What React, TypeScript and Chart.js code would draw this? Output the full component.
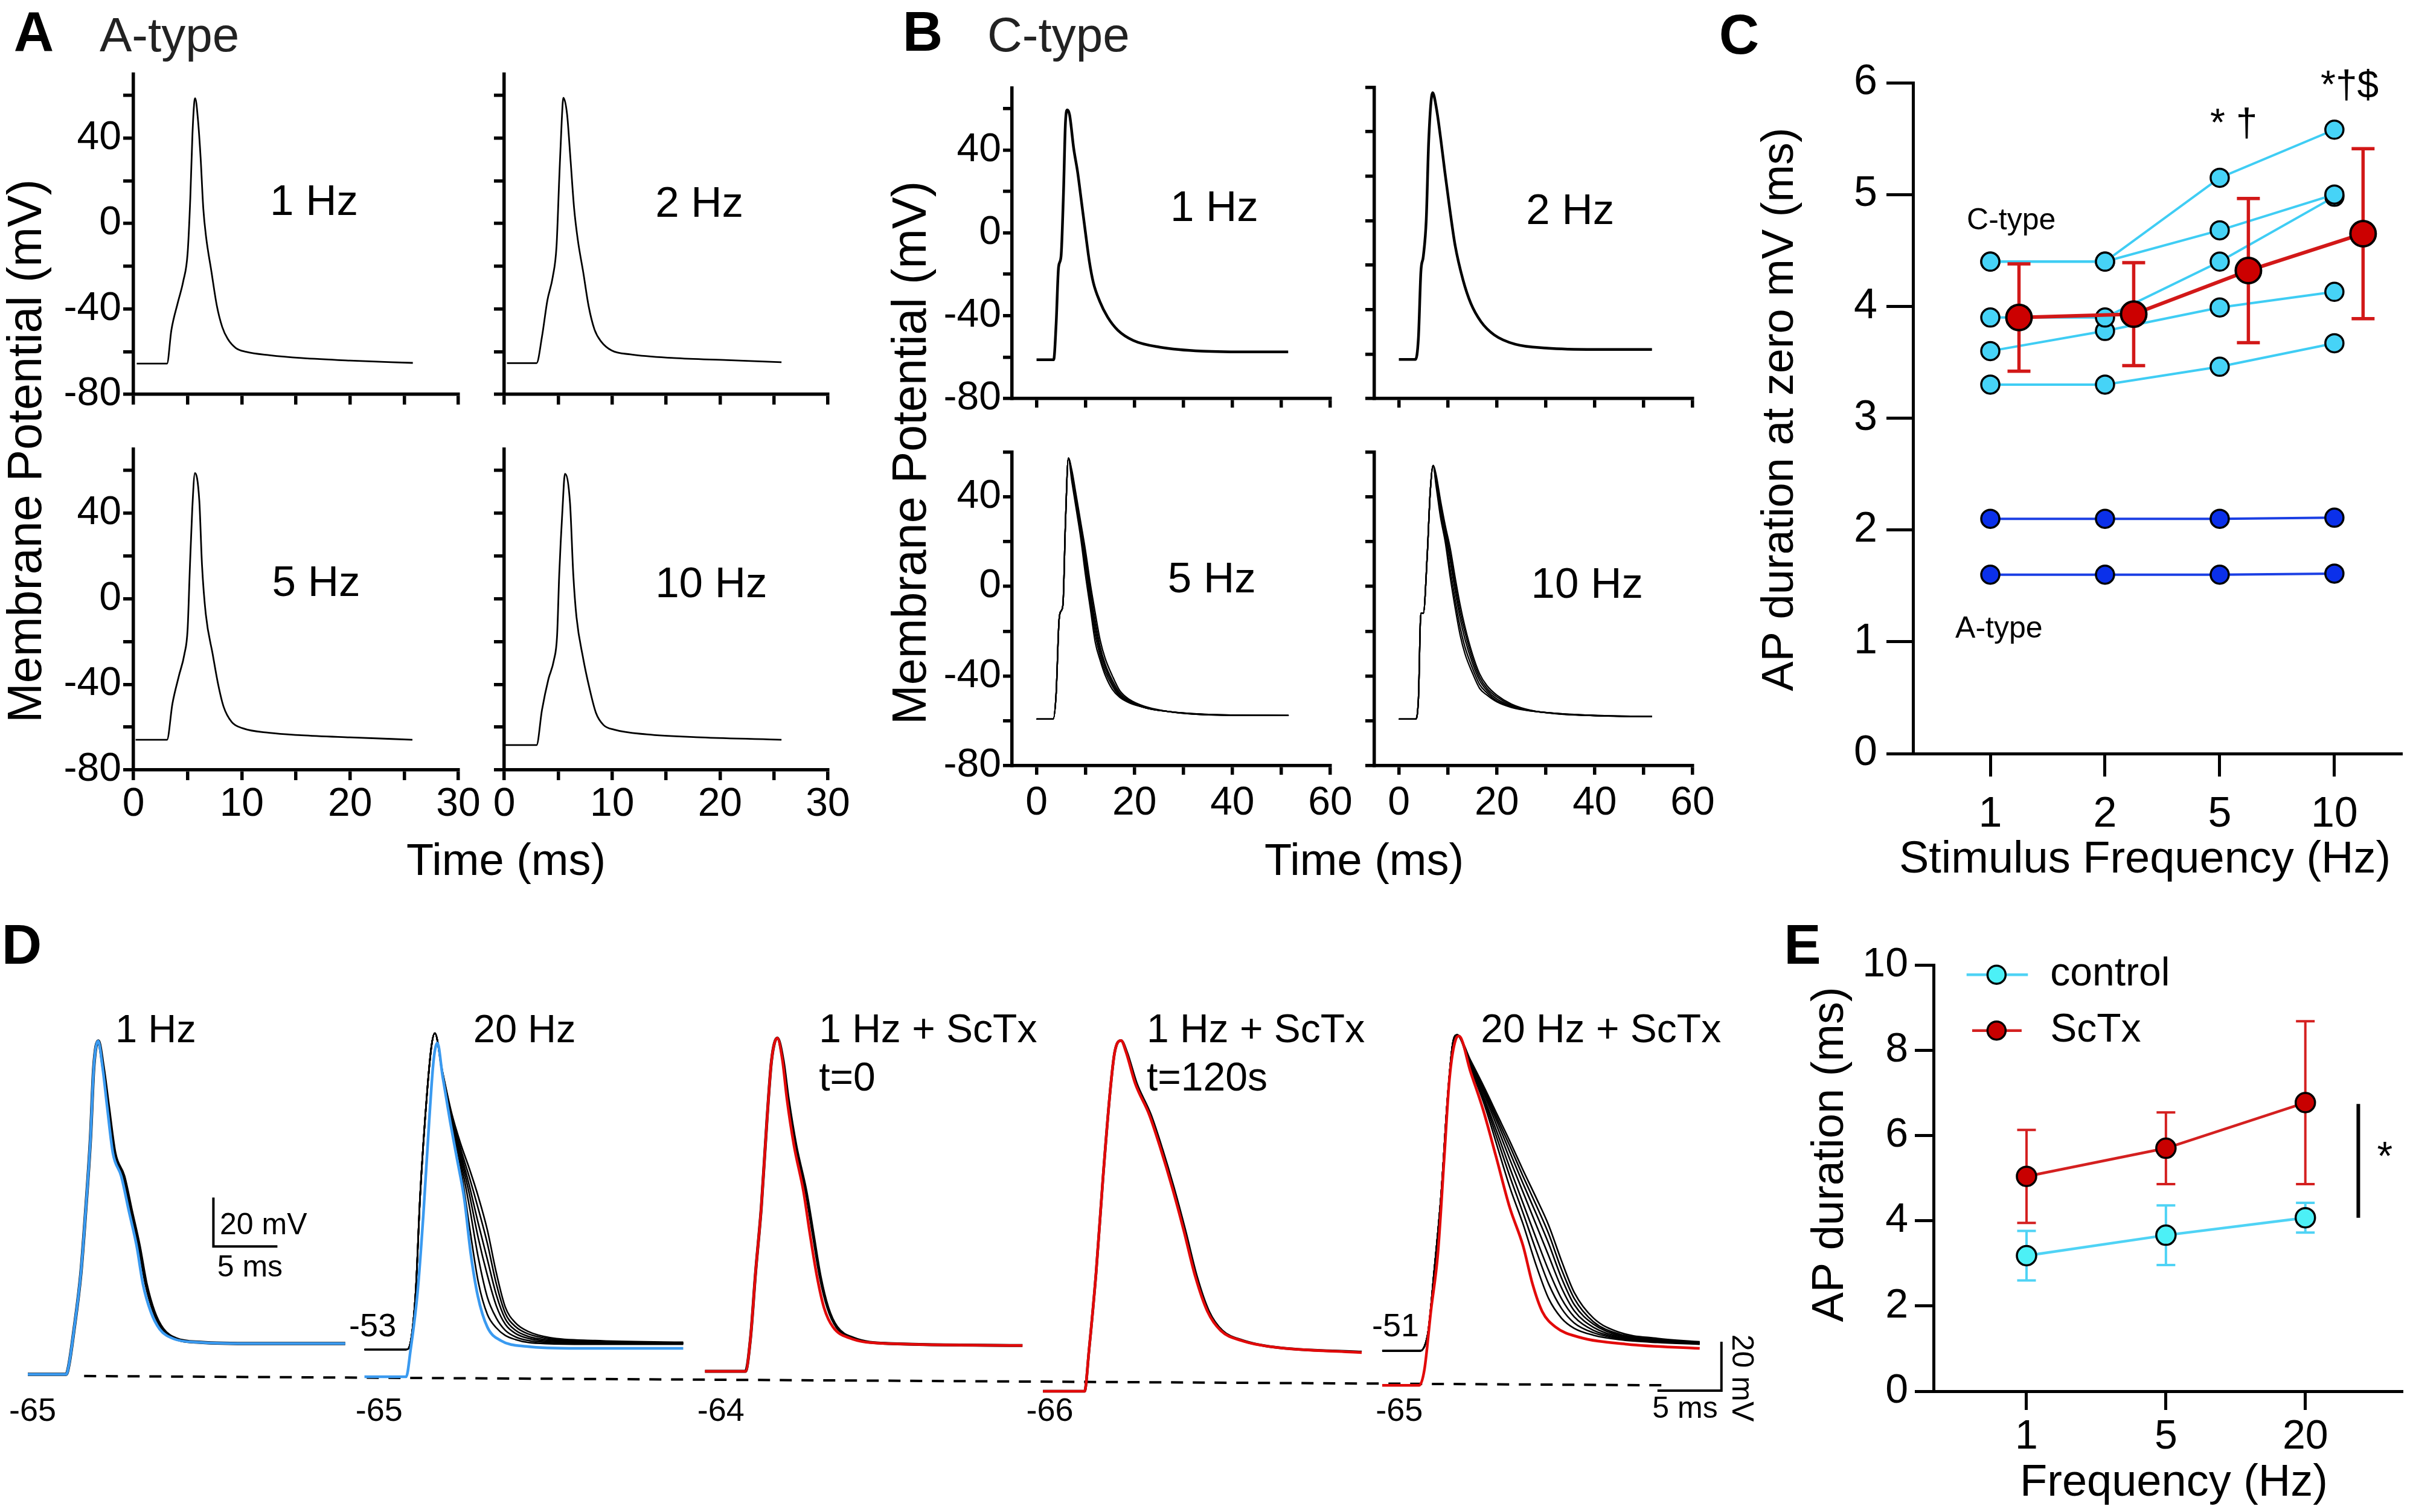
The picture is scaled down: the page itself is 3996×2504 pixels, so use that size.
import React, { useEffect, useRef } from 'react';
import { Chart, registerables } from 'chart.js';

Chart.register(...registerables);

const FONT = "'Liberation Sans', Arial, Helvetica, sans-serif";
type P = [number, number];

/* ================= DATA ================= */

/* ---- Panel A: A-type APs (time ms, membrane potential mV) ---- */
const aTrace1Hz: P[] = [[0.3,-65.6],[3.1,-65.6],[3.5,-50],[4.1,-37],[4.6,-27],[5.0,-14],[5.25,12],[5.45,42],[5.62,57],[5.7,58.7],[5.95,49],[6.2,31],[6.45,7],[6.7,-6],[7.2,-22.5],[7.7,-38.5],[8.2,-48.5],[8.7,-54],[9.45,-58.3],[10.4,-60.1],[12.6,-61.7],[15.5,-63],[20,-64.2],[25.8,-65.3]];
const aTrace2Hz: P[] = [[0.25,-65.4],[3.0,-65.4],[3.5,-53],[4.0,-36],[4.5,-25],[4.85,-10.5],[5.1,21],[5.33,48],[5.48,58.9],[5.83,51],[6.13,31],[6.48,7],[6.83,-8],[7.32,-22.7],[7.82,-38.6],[8.37,-49.7],[8.97,-55.2],[9.97,-59.5],[11.7,-61.3],[15.7,-63],[20.7,-64],[25.7,-65]];
const aTrace5Hz: P[] = [[0.2,-65.9],[3.1,-65.9],[3.6,-49],[4.2,-36],[4.7,-26],[5.0,-14.4],[5.2,13],[5.43,41.8],[5.68,58.8],[6.08,46],[6.33,15.8],[6.68,-7.2],[7.32,-26],[7.82,-40],[8.32,-50.4],[9.07,-57.6],[10.06,-60.5],[12.56,-62.7],[15.5,-63.8],[20,-64.8],[25.76,-65.9]];
const aTrace10Hz: P[] = [[0,-68.4],[3.0,-68.4],[3.5,-52],[4.1,-37.5],[4.6,-28.8],[4.9,-17.3],[5.1,11.5],[5.4,41.8],[5.63,58.4],[6.1,44.7],[6.4,11.5],[6.7,-8.6],[7.3,-27.4],[7.9,-41.8],[8.5,-53.3],[9.2,-59],[10.2,-61.2],[13.2,-63.4],[18.2,-64.8],[25.7,-65.9]];
const aTimeTicks = [0, 5, 10, 15, 20, 25, 30];
const aTimeLabels = [0, 10, 20, 30];
const mvTicks = [-80, -60, -40, -20, 0, 20, 40, 60];
const mvLabels = [-80, -40, 0, 40];

/* ---- Panel B: C-type APs ---- */
const bTrace1Hz: P[] = [[0,-61.3],[3.5,-61.3],[4.0,-44],[4.5,-16.5],[5.0,-11.5],[5.5,19],[5.9,53],[6.3,59.4],[6.75,57],[7.6,40.6],[8.4,29.2],[9.1,16.5],[10.0,0],[10.8,-14],[11.6,-24],[12.9,-33],[14.5,-40.6],[16.6,-47],[19.8,-52],[25.2,-55.2],[33.8,-57.1],[44.5,-57.5],[51.4,-57.5]];
const bTrace2Hz: P[] = [[0,-62.4],[3.4,-62.4],[4.0,-52.6],[4.5,-23],[5.0,-16],[5.6,0.6],[6.1,36],[6.9,57.6],[7.7,50.2],[8.6,36],[9.4,21.9],[10.4,5.3],[11.5,-11.2],[13.1,-26.6],[14.7,-37.2],[16.8,-45.5],[19.5,-51.4],[23.8,-55.6],[30.2,-57.3],[39.9,-57.9],[51.7,-57.9]];
const b5HzRise: P[] = [[0,-59.2],[3.4,-59.2],[4.0,-48],[4.6,-15],[5.0,-11],[5.4,-8],[5.9,28],[6.5,57.3]];
const b5HzDecayTimes = [7.2, 8, 9, 10, 11, 12, 13, 14, 15.5, 17, 19, 22, 26, 32, 40, 51.5];
const b5HzDecays = [
  [52, 42, 29, 16, 1, -12, -24, -32, -40, -46.5, -50.5, -53.5, -55.5, -57, -57.5, -57.6],
  [51, 40.5, 27, 13, -2, -15.5, -27, -34.5, -42, -47.5, -51, -54, -55.6, -57, -57.5, -57.6],
  [50, 39, 25.5, 11, -4.5, -18.5, -29, -36, -43.3, -48.3, -51.4, -54, -55.6, -56.9, -57.5, -57.6],
  [49, 38, 24, 8.5, -7, -21.5, -31, -37.8, -44.5, -49, -51.7, -54, -55.6, -56.8, -57.4, -57.6],
  [47, 36, 22, 5, -10, -25, -33, -39.5, -46, -49.5, -52, -54, -55.6, -56.8, -57.4, -57.6],
];
const b10HzRise: P[] = [[0,-59.2],[3.4,-59.2],[4.0,-50],[4.5,-12],[5.0,-12],[5.8,14],[6.4,41.8],[7.0,54]];
const b10HzDecayTimes = [7.6, 8.5, 9.5, 10.5, 11.5, 12.5, 13.5, 15, 16.5, 18, 20, 23, 27, 33, 42, 51.7];
const b10HzDecays = [
  [50, 38.5, 27, 17, 4, -8, -18, -30, -39, -44.3, -48.5, -52.5, -55.3, -57, -57.8, -58.1],
  [49, 37, 25.5, 14, 1, -11, -20.5, -32, -40.5, -45.5, -49.3, -53, -55.4, -56.9, -57.8, -58.1],
  [48, 35.5, 24, 11.5, -2, -14, -23.5, -34, -42, -46.5, -50.2, -53.4, -55.5, -56.9, -57.8, -58.1],
  [46.5, 33, 21.5, 7.5, -6, -18, -27, -36.3, -43.8, -47.5, -51, -53.7, -55.6, -56.8, -57.7, -58.1],
  [45, 31, 19.5, 4, -9.5, -21.5, -30, -38.5, -45.5, -48.5, -51.5, -54, -55.6, -56.8, -57.7, -58.1],
];
const bTimeTicks = [0, 10, 20, 30, 40, 50, 60];
const bTimeLabels = [0, 20, 40, 60];

/* ---- Panel C: AP duration at zero mV vs stimulus frequency ---- */
const cFreqLabels = ['1', '2', '5', '10'];
const cTypeCells = [
  [4.4, 4.4, 5.15, 5.58],
  [4.4, 4.4, 4.68, 5.0],
  [3.9, 3.9, 4.4, 4.98],
  [3.6, 3.78, 3.99, 4.13],
  [3.3, 3.3, 3.46, 3.67],
];
const aTypeCells = [
  [2.1, 2.1, 2.1, 2.11],
  [1.6, 1.6, 1.6, 1.61],
];
const cTypeMean = [3.9, 3.93, 4.32, 4.65];
const cTypeSd = [0.48, 0.46, 0.645, 0.76];
const cDurTicks = [0, 1, 2, 3, 4, 5, 6];

/* ---- Panel D: example traces (local time ms, mV) ---- */
const d1HzBlue: P[] = [[0,-64.5],[3.0,-64.5],[3.2,-61],[3.6,-46.7],[4.15,-23],[4.5,0.7],[4.9,32.3],[5.15,60.7],[5.5,71.8],[5.85,60.7],[6.2,44.9],[6.65,25.9],[7.3,16.5],[7.9,2.2],[8.5,-11.9],[9.0,-27.7],[9.6,-38.8],[10.3,-46],[11.4,-50],[13.35,-51.4],[17.7,-51.9],[24.8,-51.9]];
const d1HzBlack: P[] = [[0,-64.5],[3.0,-64.5],[3.2,-61],[3.6,-46.7],[4.15,-23],[4.5,0.7],[4.9,32.3],[5.15,60.7],[5.5,71.8],[5.9,60.7],[6.3,44.9],[6.8,25.9],[7.5,16.5],[8.1,2.2],[8.7,-11.9],[9.25,-27.7],[9.85,-38.8],[10.55,-46],[11.6,-50],[13.5,-51.4],[17.7,-51.9],[24.8,-51.9]];
const d20HzBlue: P[] = [[0,-65.5],[3.26,-65.5],[3.6,-54.6],[4.15,-30.9],[4.6,0.7],[5.05,38.7],[5.4,63.9],[5.7,71],[6.1,57.5],[6.7,38.7],[7.2,24.4],[7.8,7.1],[8.3,-15.1],[8.85,-32.4],[9.6,-45.2],[10.65,-50.7],[12.65,-53.1],[16.6,-53.9],[24.9,-53.9]];
const d20HzBlackRise: P[] = [[0,-54.4],[3.26,-54.4],[3.6,-51.4],[4.0,-30.9],[4.35,8.6],[4.9,51.3],[5.25,70.3],[5.5,75]];
const d20HzDecayTimes = [6.1, 6.8, 7.5, 8.2, 8.9, 9.6, 10.3, 11.0, 11.8, 12.8, 14.5, 18, 24.9];
const d20HzDecays = [
  [59.2, 42.5, 30, 19.5, 8, -5.5, -23, -37, -43.5, -47, -49.5, -50.7, -51.4],
  [59, 41.5, 28, 16, 3, -11, -27.5, -39.5, -45, -48, -50, -51, -51.6],
  [58.7, 40.8, 26.5, 12.5, -3, -17.5, -32, -41.8, -46.5, -49, -50.5, -51.2, -51.7],
  [58.3, 40, 25, 9, -9, -24, -36.5, -44, -47.8, -49.8, -51, -51.5, -51.8],
  [58, 39, 23, 4, -17, -33, -41.5, -46.5, -49.2, -50.7, -51.5, -51.9, -52],
  [57.5, 38, 20.5, -4, -27, -40, -45.5, -48.6, -50.3, -51.5, -52, -52.2, -52.2],
];
const dScTx0Red: P[] = [[0,-63.3],[3.16,-63.3],[3.55,-50],[3.95,-23],[4.4,3.9],[4.85,40.2],[5.2,63.9],[5.65,73],[6.05,63.9],[6.4,48.1],[6.95,29.1],[7.7,10.1],[8.2,-7.2],[8.75,-24.5],[9.3,-37.3],[10.0,-45.2],[11.3,-49.7],[14.15,-51.9],[24.8,-52.7]];
const dScTx0Black: P[] = [[0,-63.3],[3.16,-63.3],[3.55,-50],[3.95,-23],[4.4,3.9],[4.85,40.2],[5.2,63.9],[5.65,73],[6.1,63.9],[6.5,48.1],[7.1,29.1],[7.9,10.1],[8.45,-7.2],[9.0,-24.5],[9.6,-37.3],[10.3,-45.2],[11.6,-49.7],[14.3,-51.9],[24.8,-52.7]];
const dScTx120Red: P[] = [[0,-71.4],[3.25,-71.4],[3.6,-54.6],[4.15,-23],[4.7,16.5],[5.25,51.3],[5.6,67.1],[6.1,72],[6.5,67.1],[7.2,54.5],[8.3,41.7],[9.2,27.6],[10.1,11.8],[11.0,-5.7],[11.9,-24.5],[12.85,-38.8],[13.9,-46.7],[15.5,-50.7],[18.05,-53.4],[24.9,-55.6]];
const dScTx120Black: P[] = [[0,-71.4],[3.25,-71.4],[3.6,-54.6],[4.15,-23],[4.7,16.5],[5.25,51.3],[5.6,67.1],[6.1,72],[6.55,67.1],[7.3,54.5],[8.4,41.7],[9.3,27.6],[10.2,11.8],[11.1,-5.7],[12.0,-24.5],[12.95,-38.8],[14.0,-46.7],[15.6,-50.7],[18.1,-53.4],[24.9,-55.4]];
const d20ScTxRed: P[] = [[0,-69],[2.9,-69],[3.3,-62.5],[3.8,-38.8],[4.35,-15.1],[4.85,24.4],[5.25,56],[5.75,72.5],[6.0,73.8],[6.9,59.2],[7.9,43.4],[8.9,24.4],[9.95,3.9],[11.0,-11.9],[11.75,-27.7],[12.5,-38.8],[13.55,-45.2],[15.3,-49.2],[19.15,-52.2],[24.8,-53.9]];
const d20ScTxBlackRise: P[] = [[0,-54.9],[2.9,-54.9],[3.3,-53.1],[3.6,-46.7],[4.05,-23],[4.6,8.6],[5.1,48.1],[5.5,70.3],[5.85,74.3]];
const d20ScTxDecayTimes = [6.9, 8.0, 9.0, 10.0, 11.0, 12.0, 13.0, 14.0, 15.0, 16.5, 18.5, 21.5, 24.8];
const d20ScTxDecays = [
  [63.9, 52.5, 41.5, 30.5, 19, 8, -3.5, -18, -31, -41.5, -47.3, -49.8, -51.2],
  [63.5, 51.5, 40, 28.5, 16.5, 5, -7, -21.5, -33.5, -43, -48, -50.2, -51.4],
  [63, 50.5, 38.5, 26, 13.5, 1.5, -11, -25, -36, -44, -48.5, -50.5, -51.6],
  [62.5, 49.5, 36.5, 23, 10, -3, -16, -29, -38.5, -45.3, -49, -50.8, -51.7],
  [62, 48, 34, 19.5, 5.5, -8.5, -22, -33.5, -41, -46.5, -49.5, -51, -51.9],
  [61.5, 47, 31.5, 16, 1.5, -13.5, -27.5, -37.5, -43.5, -47.5, -49.9, -51.3, -52],
  [60.7, 45.5, 28.5, 11.5, -3, -19.5, -33.5, -41.5, -45.7, -48.5, -50.3, -51.5, -52.2],
];
const dTraceStartMs = [0, 26.3, 52.9, 79.3, 105.8];
const dRestLine: P[] = [[4.4, -65.2], [128.3, -69]];
const dScaleMv = 20;
const dScaleMs = 5;

/* ---- Panel E: AP duration vs frequency, control vs ScTx ---- */
const eFreqLabels = ['1', '5', '20'];
const eControl = [3.18, 3.66, 4.07];
const eControlSd = [0.58, 0.7, 0.35];
const eScTx = [5.04, 5.7, 6.77];
const eScTxSd = [1.09, 0.84, 1.91];
const eSigSpan: P = [4.07, 6.74];
const eDurTicks = [0, 2, 4, 6, 8, 10];

/* ================= LAYOUT / HELPERS ================= */
type Rect = { x: number; y: number; w: number; h: number };
type Area = { l: number; t: number; r: number; b: number };
type TextItem = { t: string; x: number; y: number; size: number; align?: CanvasTextAlign; rot?: number; color?: string; bold?: boolean; page?: boolean };
type ErrBar = { ds: number; xs: number[]; ys: number[]; sd: number[]; color: string; width: number; cap: number };
type LegendItem = { x1: number; x2: number; mx: number; y: number; r: number; line: string; fill: string; lw: number; bw: number };

const M = { left: 210, top: 30, right: 60, bottom: 130 };
const rectFor = (a: Area): Rect => ({ x: a.l - M.left, y: a.t - M.top, w: a.r - a.l + M.left + M.right, h: a.b - a.t + M.top + M.bottom });
const xy = (pts: P[], dx = 0) => pts.map(([x, y]) => ({ x: x + dx, y }));
const family = (rise: P[], times: number[], vals: number[]): P[] => [...rise, ...times.map((t, i) => [t, vals[i]] as P)];

function makeOverlay(rect: Rect, texts: TextItem[], errs: ErrBar[] = [], legend: LegendItem[] = []) {
  return {
    id: 'overlay',
    beforeDatasetDraw(chart: any, args: any) {
      const { ctx } = chart;
      const xs = chart.scales.x, ys = chart.scales.y;
      for (const e of errs) {
        if (e.ds !== args.index) continue;
        ctx.save();
        ctx.strokeStyle = e.color;
        ctx.lineWidth = e.width;
        e.xs.forEach((xv, i) => {
          const px = xs.getPixelForValue(xv);
          const p1 = ys.getPixelForValue(e.ys[i] - e.sd[i]);
          const p2 = ys.getPixelForValue(e.ys[i] + e.sd[i]);
          ctx.beginPath();
          ctx.moveTo(px, p1); ctx.lineTo(px, p2);
          ctx.moveTo(px - e.cap / 2, p1); ctx.lineTo(px + e.cap / 2, p1);
          ctx.moveTo(px - e.cap / 2, p2); ctx.lineTo(px + e.cap / 2, p2);
          ctx.stroke();
        });
        ctx.restore();
      }
    },
    afterDraw(chart: any) {
      const { ctx } = chart;
      const xs = chart.scales.x, ys = chart.scales.y;
      ctx.save();
      for (const L of legend) {
        const y = ys.getPixelForValue(L.y);
        ctx.strokeStyle = L.line; ctx.lineWidth = L.lw;
        ctx.beginPath(); ctx.moveTo(xs.getPixelForValue(L.x1), y); ctx.lineTo(xs.getPixelForValue(L.x2), y); ctx.stroke();
        ctx.beginPath(); ctx.arc(xs.getPixelForValue(L.mx), y, L.r, 0, Math.PI * 2);
        ctx.fillStyle = L.fill; ctx.fill();
        ctx.lineWidth = L.bw; ctx.strokeStyle = '#000'; ctx.stroke();
      }
      for (const T of texts) {
        const px = T.page ? T.x - rect.x : xs.getPixelForValue(T.x);
        const py = T.page ? T.y - rect.y : ys.getPixelForValue(T.y);
        ctx.save();
        ctx.translate(px, py);
        if (T.rot) ctx.rotate(T.rot);
        ctx.font = `${T.bold ? 'bold ' : ''}${T.size}px ${FONT}`;
        ctx.fillStyle = T.color || '#000';
        ctx.textAlign = T.align || 'left';
        ctx.textBaseline = 'middle';
        ctx.fillText(T.t, 0, 0);
        ctx.restore();
      }
      ctx.restore();
    },
  };
}

function axis(o: { horizontal: boolean; min: number; max: number; ticks: number[]; label: (v: number) => string; size: number; tickLen: number; pad: number; font: number; lw: number }) {
  return {
    type: 'linear', display: true, min: o.min, max: o.max, bounds: 'data',
    afterBuildTicks: (s: any) => { s.ticks = o.ticks.map((v) => ({ value: v })); },
    afterFit: (s: any) => { if (o.horizontal) s.height = o.size; else s.width = o.size; },
    ticks: { autoSkip: false, maxRotation: 0, minRotation: 0, padding: o.pad, color: '#000', font: { family: FONT, size: o.font }, callback: (v: number) => o.label(v) },
    grid: { display: true, drawOnChartArea: false, drawTicks: true, tickLength: o.tickLen, lineWidth: o.lw, tickWidth: o.lw, color: '#000' },
    border: { display: true, color: '#000', width: o.lw },
  };
}

function baseOptions(scales: any, pad: any) {
  return {
    responsive: false, animation: false, devicePixelRatio: 1, events: [],
    layout: { autoPadding: false, padding: pad },
    plugins: { legend: { display: false }, tooltip: { enabled: false } },
    scales,
  };
}

type Spec = { key: string; rect: Rect; config: any };
type Style = { tickLen: number; xPad: number; yPad: number; font: number; lw: number };

function traceSpec(key: string, area: Area, series: { pts: P[]; w: number }[], xr: { min: number; max: number; ticks: number[]; labels: number[] | null },
  yr: { min: number; max: number }, showY: boolean, texts: TextItem[], st: Style): Spec {
  const rect = rectFor(area);
  const config = {
    type: 'line',
    data: {
      datasets: series.map((s) => ({ data: xy(s.pts), borderColor: '#000', borderWidth: s.w, pointRadius: 0, cubicInterpolationMode: 'monotone', borderJoinStyle: 'round', fill: false })),
    },
    options: baseOptions({
      x: axis({ horizontal: true, min: xr.min, max: xr.max, ticks: xr.ticks, label: (v) => (xr.labels && xr.labels.includes(v) ? String(v) : ''), size: M.bottom, tickLen: st.tickLen, pad: st.xPad, font: st.font, lw: st.lw }),
      y: axis({ horizontal: false, min: yr.min, max: yr.max, ticks: mvTicks.filter((v) => v <= yr.max), label: (v) => (showY && mvLabels.includes(v) ? String(v) : ''), size: M.left, tickLen: st.tickLen, pad: st.yPad, font: st.font, lw: st.lw }),
    }, { left: 0, top: M.top, right: M.right, bottom: 0 }),
    plugins: [makeOverlay(rect, texts)],
  };
  return { key, rect, config };
}

function buildSpecs(): Spec[] {
  const specs: Spec[] = [];
  const aSt: Style = { tickLen: 17, xPad: 1, yPad: 3, font: 66, lw: 5.5 };
  const bSt: Style = { tickLen: 15, xPad: 8, yPad: 3, font: 66, lw: 5.5 };
  const aX = (lab: boolean) => ({ min: 0, max: 30, ticks: aTimeTicks, labels: lab ? aTimeLabels : null });
  const bX = (lab: boolean) => ({ min: -5, max: 60, ticks: bTimeTicks, labels: lab ? bTimeLabels : null });
  const hz = (t: string, x: number, y: number): TextItem => ({ t, x, y, size: 71 });

  specs.push(traceSpec('a1', { l: 221, t: 110, r: 759, b: 653 }, [{ pts: aTrace1Hz, w: 2.8 }], aX(false), { min: -80, max: 70 }, true, [hz('1 Hz', 12.6, 9.4)], aSt));
  specs.push(traceSpec('a2', { l: 835, t: 110, r: 1371, b: 653 }, [{ pts: aTrace2Hz, w: 2.8 }], aX(false), { min: -80, max: 70 }, false, [hz('2 Hz', 14.0, 8.6)], aSt));
  specs.push(traceSpec('a3', { l: 221, t: 731, r: 759, b: 1275 }, [{ pts: aTrace5Hz, w: 2.8 }], aX(true), { min: -80, max: 70 }, true, [hz('5 Hz', 12.8, 6.9)], aSt));
  specs.push(traceSpec('a4', { l: 835, t: 731, r: 1371, b: 1275 }, [{ pts: aTrace10Hz, w: 2.8 }], aX(true), { min: -80, max: 70 }, false, [hz('10 Hz', 14.0, 6.3)], aSt));

  specs.push(traceSpec('b1', { l: 1676, t: 133, r: 2203, b: 660 }, [{ pts: bTrace1Hz, w: 4.5 }], bX(false), { min: -80, max: 70 }, true, [hz('1 Hz', 27.3, 11.4)], bSt));
  specs.push(traceSpec('b2', { l: 2276, t: 132, r: 2803, b: 660 }, [{ pts: bTrace2Hz, w: 4.5 }], bX(false), { min: -80, max: 60 }, false, [hz('2 Hz', 26.0, 3.7)], bSt));
  specs.push(traceSpec('b3', { l: 1676, t: 736, r: 2203, b: 1268 }, b5HzDecays.map((d) => ({ pts: family(b5HzRise, b5HzDecayTimes, d), w: 2.3 })), bX(true), { min: -80, max: 60 }, true, [hz('5 Hz', 26.8, 2.6)], bSt));
  specs.push(traceSpec('b4', { l: 2276, t: 736, r: 2803, b: 1268 }, b10HzDecays.map((d) => ({ pts: family(b10HzRise, b10HzDecayTimes, d), w: 2.3 })), bX(true), { min: -80, max: 60 }, false, [hz('10 Hz', 27.0, 0.3)], bSt));

  /* ---- Panel C ---- */
  {
    const rect: Rect = { x: 2830, y: 0, w: 1166, h: 1480 };
    const meanOffset = 0.25;
    const LB = '#3fcdf4', LBF = '#46d3f7', DB = '#1b3fe4', DBF = '#0b30ea', RED = '#d21818';
    const datasets: any[] = [
      { data: cTypeMean.map((v, i) => ({ x: i + meanOffset, y: v })), borderColor: RED, borderWidth: 6, pointRadius: 21, pointBackgroundColor: '#cc0000', pointBorderColor: '#000', pointBorderWidth: 4, order: 0 },
      ...cTypeCells.map((arr) => ({ data: arr.map((v, i) => ({ x: i, y: v })), borderColor: LB, borderWidth: 4, pointRadius: 15, pointBackgroundColor: LBF, pointBorderColor: '#000', pointBorderWidth: 3.5, order: 2 })),
      ...aTypeCells.map((arr) => ({ data: arr.map((v, i) => ({ x: i, y: v })), borderColor: DB, borderWidth: 4, pointRadius: 15, pointBackgroundColor: DBF, pointBorderColor: '#000', pointBorderWidth: 3.5, order: 2 })),
    ];
    const texts: TextItem[] = [
      { t: 'C-type', x: -0.205, y: 4.76, size: 50 },
      { t: 'A-type', x: -0.305, y: 1.11, size: 50 },
      { t: '* †', x: 1.916, y: 5.62, size: 64 },
      { t: '*†$', x: 2.88, y: 5.96, size: 64 },
      { t: 'AP duration at zero mV (ms)', x: 2949, y: 678, size: 74, align: 'center', rot: -Math.PI / 2, page: true },
      { t: 'Stimulus Frequency (Hz)', x: 3552, y: 1425, size: 74, align: 'center', page: true },
    ];
    const errs: ErrBar[] = [{ ds: 0, xs: cTypeMean.map((_, i) => i + meanOffset), ys: cTypeMean, sd: cTypeSd, color: RED, width: 5.5, cap: 38 }];
    specs.push({
      key: 'c', rect,
      config: {
        type: 'line',
        data: { datasets },
        options: baseOptions({
          x: axis({ horizontal: true, min: -0.674, max: 3.58, ticks: [0, 1, 2, 3], label: (v) => cFreqLabels[v] ?? '', size: 1480 - 1248, tickLen: 38, pad: 22, font: 70, lw: 5 }),
          y: axis({ horizontal: false, min: 0, max: 6, ticks: cDurTicks, label: (v) => String(v), size: 3168 - 2830, tickLen: 44, pad: 15, font: 70, lw: 5 }),
        }, { left: 0, top: 137, right: 20, bottom: 0 }),
        plugins: [makeOverlay(rect, texts, errs)],
      },
    });
  }

  /* ---- Panel D ---- */
  {
    const rect: Rect = { x: 0, y: 1500, w: 2940, h: 1004 };
    const BLUE = '#3a9af0', RED = '#e20a0a';
    const line = (pts: P[], start: number, color: string, w: number, order: number) => ({
      data: xy(pts, start), borderColor: color, borderWidth: w, pointRadius: 0, order, cubicInterpolationMode: 'monotone', borderJoinStyle: 'round', fill: false,
    });
    const s = dTraceStartMs;
    const sb1: P = [14.5, -12.2];
    const sb2: P = [132.3, -71.2];
    const datasets: any[] = [
      line(d1HzBlue, s[0], BLUE, 4.5, 0),
      line(d20HzBlue, s[1], BLUE, 4.5, 0),
      line(dScTx0Red, s[2], RED, 4.5, 0),
      line(dScTx120Red, s[3], RED, 4.5, 0),
      line(d20ScTxRed, s[4], RED, 4.5, 0),
      line(d1HzBlack, s[0], '#000', 5.5, 1),
      ...d20HzDecays.map((d) => line(family(d20HzBlackRise, d20HzDecayTimes, d), s[1], '#000', 2.6, 1)),
      line(dScTx0Black, s[2], '#000', 5, 1),
      line(dScTx120Black, s[3], '#000', 4.5, 1),
      ...d20ScTxDecays.map((d) => line(family(d20ScTxBlackRise, d20ScTxDecayTimes, d), s[4], '#000', 2.6, 1)),
      { data: xy(dRestLine), borderColor: '#000', borderWidth: 4, borderDash: [20, 16], pointRadius: 0, order: 3 },
      { data: [{ x: sb1[0], y: sb1[1] + dScaleMv }, { x: sb1[0], y: sb1[1] }, { x: sb1[0] + dScaleMs, y: sb1[1] }], borderColor: '#000', borderWidth: 4, pointRadius: 0, order: 3 },
      { data: [{ x: sb2[0] - dScaleMs, y: sb2[1] }, { x: sb2[0], y: sb2[1] }, { x: sb2[0], y: sb2[1] + dScaleMv }], borderColor: '#000', borderWidth: 4, pointRadius: 0, order: 3 },
    ];
    const texts: TextItem[] = [
      { t: '1 Hz', x: 6.84, y: 75.7, size: 65 },
      { t: '20 Hz', x: 34.8, y: 75.7, size: 65 },
      { t: '1 Hz + ScTx', x: 61.8, y: 75.7, size: 66 },
      { t: 't=0', x: 61.8, y: 56, size: 66 },
      { t: '1 Hz + ScTx', x: 87.4, y: 75.7, size: 66 },
      { t: 't=120s', x: 87.4, y: 56, size: 66 },
      { t: '20 Hz + ScTx', x: 113.5, y: 75.7, size: 66 },
      { t: '20 mV', x: 15.0, y: -3.8, size: 50 },
      { t: '5 ms', x: 14.8, y: -21, size: 50 },
      { t: '-65', x: -1.46, y: -79.8, size: 54 },
      { t: '-65', x: 25.6, y: -79.8, size: 54 },
      { t: '-53', x: 25.1, y: -45.2, size: 54 },
      { t: '-64', x: 52.3, y: -79.8, size: 54 },
      { t: '-66', x: 78.0, y: -79.8, size: 54 },
      { t: '-51', x: 105.0, y: -45.2, size: 54 },
      { t: '-65', x: 105.3, y: -79.8, size: 54 },
      { t: '5 ms', x: 126.9, y: -79, size: 50 },
      { t: '20 mV', x: 133.8, y: -66, size: 50, align: 'center', rot: Math.PI / 2 },
    ];
    const pxPerMs = 21.2, pxPerMv = 4.05, x0px = 46, yRefPx = 2278 - 1500;
    specs.push({
      key: 'd', rect,
      config: {
        type: 'line',
        data: { datasets },
        options: baseOptions({
          x: { type: 'linear', display: false, bounds: 'data', min: (0 - x0px) / pxPerMs, max: (rect.w - x0px) / pxPerMs },
          y: { type: 'linear', display: false, bounds: 'data', min: -65 - (rect.h - yRefPx) / pxPerMv, max: -65 + yRefPx / pxPerMv },
        }, 0),
        plugins: [makeOverlay(rect, texts)],
      },
    });
  }

  /* ---- Panel E ---- */
  {
    const rect: Rect = { x: 2930, y: 1500, w: 1066, h: 1004 };
    const CY = '#4fd3f5', CYF = '#4cf0f6', RED = '#d42020', REDF = '#c80000';
    const idx = eFreqLabels.map((_, i) => i);
    const sigX = 2.38;
    const datasets: any[] = [
      { data: eScTx.map((v, i) => ({ x: i, y: v })), borderColor: RED, borderWidth: 4.5, pointRadius: 16, pointBackgroundColor: REDF, pointBorderColor: '#000', pointBorderWidth: 3.5, order: 0 },
      { data: eControl.map((v, i) => ({ x: i, y: v })), borderColor: CY, borderWidth: 4.5, pointRadius: 16, pointBackgroundColor: CYF, pointBorderColor: '#000', pointBorderWidth: 3.5, order: 1 },
      { data: [{ x: sigX, y: eSigSpan[0] }, { x: sigX, y: eSigSpan[1] }], borderColor: '#000', borderWidth: 6, pointRadius: 0, order: 2 },
    ];
    const errs: ErrBar[] = [
      { ds: 0, xs: idx, ys: eScTx, sd: eScTxSd, color: RED, width: 4, cap: 31 },
      { ds: 1, xs: idx, ys: eControl, sd: eControlSd, color: CY, width: 4, cap: 31 },
    ];
    const legend: LegendItem[] = [
      { x1: -0.43, x2: 0.01, mx: -0.215, y: 9.77, r: 15, line: CY, fill: CYF, lw: 4.5, bw: 3.5 },
      { x1: -0.39, x2: -0.035, mx: -0.215, y: 8.46, r: 15, line: RED, fill: REDF, lw: 4.5, bw: 3.5 },
    ];
    const texts: TextItem[] = [
      { t: 'control', x: 0.17, y: 9.77, size: 66 },
      { t: 'ScTx', x: 0.17, y: 8.46, size: 66 },
      { t: '*', x: 2.57, y: 5.45, size: 66, align: 'center' },
      { t: 'AP duration (ms)', x: 3032, y: 1912, size: 74, align: 'center', rot: -Math.PI / 2, page: true },
      { t: 'Frequency (Hz)', x: 3600, y: 2457, size: 74, align: 'center', page: true },
    ];
    specs.push({
      key: 'e', rect,
      config: {
        type: 'line',
        data: { datasets },
        options: baseOptions({
          x: axis({ horizontal: true, min: -0.667, max: 2.69, ticks: idx, label: (v) => eFreqLabels[v] ?? '', size: 2504 - 2304, tickLen: 31, pad: 4, font: 68, lw: 5 }),
          y: axis({ horizontal: false, min: 0, max: 10, ticks: eDurTicks, label: (v) => String(v), size: 3202 - 2930, tickLen: 31, pad: 11, font: 68, lw: 5 }),
        }, { left: 0, top: 1598 - 1500, right: 19, bottom: 0 }),
        plugins: [makeOverlay(rect, texts, errs, legend)],
      },
    });
  }
  return specs;
}

function ChartBox({ spec }: { spec: Spec }) {
  const ref = useRef<HTMLCanvasElement>(null);
  useEffect(() => {
    const chart = new Chart(ref.current as HTMLCanvasElement, spec.config);
    return () => chart.destroy();
  }, []);
  const r = spec.rect;
  return <canvas ref={ref} width={r.w} height={r.h} style={{ position: 'absolute', left: r.x, top: r.y, width: r.w, height: r.h }} />;
}

function Label({ t, x, y, size, bold, rot, align = 'center', color = '#000' }: { t: string; x: number; y: number; size: number; bold?: boolean; rot?: number; align?: string; color?: string }) {
  const tr = (align === 'center' ? 'translate(-50%,-50%)' : 'translate(0,-50%)') + (rot ? ` rotate(${rot}deg)` : '');
  return (
    <div style={{ position: 'absolute', left: x, top: y, transform: tr, fontSize: size, fontWeight: bold ? 700 : 400, fontFamily: FONT, lineHeight: 1, whiteSpace: 'nowrap', color }}>{t}</div>
  );
}

export default function App() {
  useEffect(() => {
    document.body.style.margin = '0';
    document.body.style.overflow = 'hidden';
  }, []);
  const specs = buildSpecs();
  return (
    <div style={{ position: 'absolute', left: 0, top: 0, width: 3996, height: 2504, background: '#fff', overflow: 'hidden' }}>
      <Label t="A" x={56} y={52} size={92} bold />
      <Label t="A-type" x={165} y={58} size={80} align="left" color="#222" />
      <Label t="B" x={1528} y={52} size={92} bold />
      <Label t="C-type" x={1635} y={58} size={80} align="left" color="#222" />
      <Label t="C" x={2880} y={57} size={92} bold />
      <Label t="D" x={36} y={1564} size={92} bold />
      <Label t="E" x={2985} y={1564} size={92} bold />
      <Label t="Membrane Potential (mV)" x={40} y={747} size={79} rot={-90} />
      <Label t="Membrane Potential (mV)" x={1505} y={750} size={79} rot={-90} />
      <Label t="Time (ms)" x={838} y={1424} size={74} />
      <Label t="Time (ms)" x={2259} y={1424} size={74} />
      {specs.map((s) => <ChartBox key={s.key} spec={s} />)}
    </div>
  );
}
